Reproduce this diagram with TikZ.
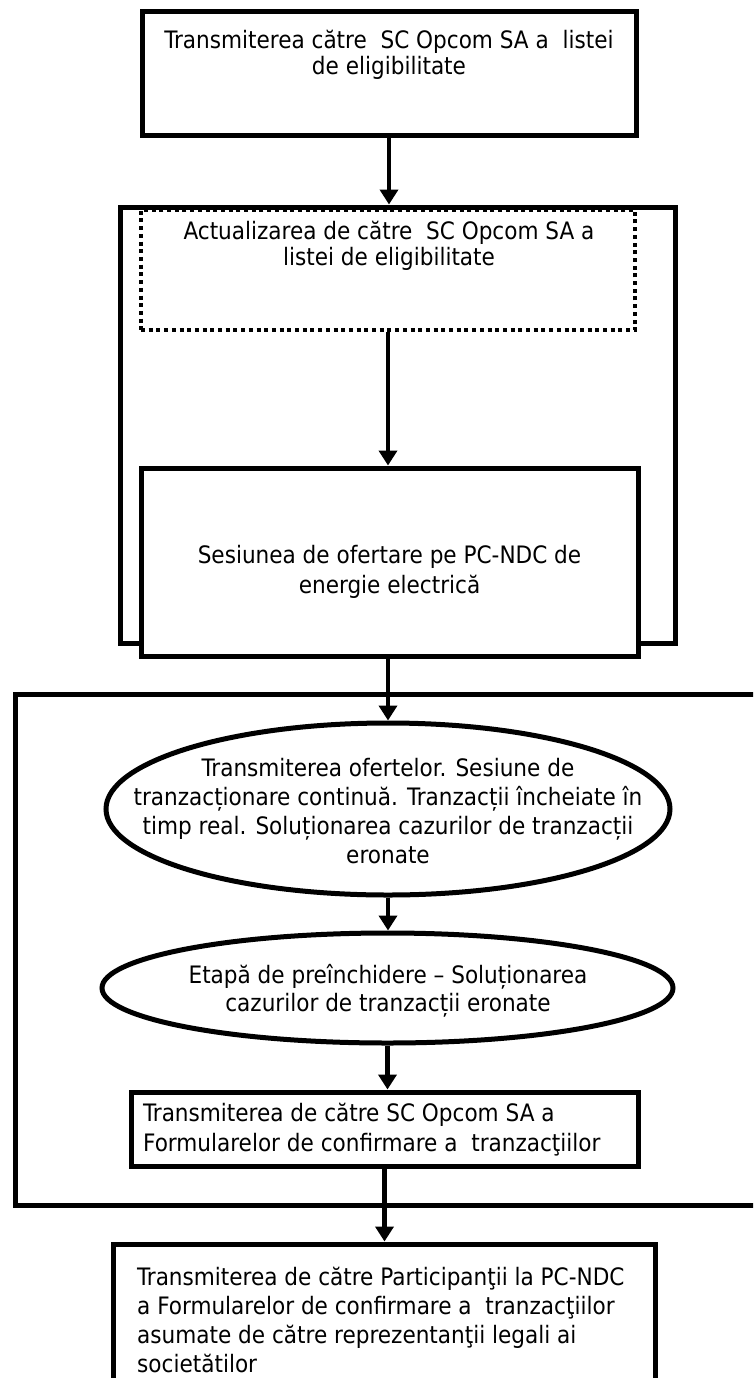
\documentclass[tikz,border=0pt]{standalone}
\usepackage{fontspec}
\setmainfont{DejaVu Sans Condensed}
\usetikzlibrary{arrows.meta,shapes.geometric}
\begin{document}
\begin{tikzpicture}[x=1pt,y=-1pt,
  box/.style={draw, line width=5pt, rectangle, inner sep=0pt},
  dotbox/.style={draw, line width=4pt, dash pattern=on 4pt off 3.7pt, rectangle, inner sep=0pt},
  oval/.style={draw, ellipse, line width=5pt, inner sep=0pt},
  txt/.style={align=center, inner sep=0pt},
  ltxt/.style={align=left, inner sep=0pt, anchor=west},
  arr/.style={line width=4.5pt, -{Triangle[width=18pt,length=15pt]}},
  fs/.style={font=\fontsize{24}{#1}\selectfont}]
\useasboundingbox (0,0) rectangle (753,1378);
\clip (0,0) rectangle (753,1378);

% top box
\node[box, minimum width=494pt, minimum height=124pt] (A) at (389,74) {};
\node[txt, fs=26] (Atxt) at (389,55) {Transmiterea către\ \ SC Opcom SA a\ \ listei\\de eligibilitate};

% group 1
\node[box, minimum width=555pt, minimum height=436pt] (G1) at (397.5,425) {};
\node[dotbox, minimum width=494pt, minimum height=120pt] (D) at (388,270) {};
\node[txt, fs=26] (Dtxt) at (389,246) {Actualizarea de către\ \ SC Opcom SA a\\listei de eligibilitate};
\node[box, fill=white, minimum width=497pt, minimum height=188pt] (S) at (389.5,562) {};
\node[txt, fs=30] (Stxt) at (389.5,572) {Sesiunea de ofertare pe PC-NDC de\\energie electrică};

% group 2
\node[box, minimum width=755pt, minimum height=511pt] (G2) at (392.5,949.5) {};
\node[oval, minimum width=564pt, minimum height=172pt] (E1) at (388,809) {};
\node[txt, fs=29] (E1txt) at (388,811) {Transmiterea ofertelor. Sesiune de\\tranzacționare continuă. Tranzacții încheiate în\\timp real. Soluționarea cazurilor de tranzacții\\eronate};
\node[oval, minimum width=571pt, minimum height=110pt] (E2) at (387.5,988) {};
\node[txt, fs=28] (E2txt) at (388,991) {Etapă de preînchidere – Soluționarea\\cazurilor de tranzacții eronate};
\node[box, minimum width=507pt, minimum height=74pt] (B4) at (384.5,1129) {};
\node[ltxt, fs=30] (B4txt) at (143,1130) {Transmiterea de către SC Opcom SA a\\Formularelor de confirmare a\ \ tranzacţiilor};

% bottom box
\node[box, minimum width=542pt, minimum height=151pt] (B5) at (384,1319.5) {};
\node[ltxt, fs=29] (B5txt) at (137,1319.5) {Transmiterea de către Participanţii la PC-NDC\\a Formularelor de confirmare a\ \ tranzacţiilor\\asumate de către reprezentanţii legali ai\\societătilor};

% connectors
\draw[arr] (A.south) -- (A.south |- G1.north);
\draw[arr] (D.south) -- (D.south |- S.north);
\draw[arr] (E1.north |- S.south) -- (E1.north);
\draw[arr] (E1.south) -- (E1.south |- E2.north);
\draw[arr] (E2.south) -- (E2.south |- B4.north);
\draw[arr] (B4.south) -- (B4.south |- B5.north);
\end{tikzpicture}
\end{document}
